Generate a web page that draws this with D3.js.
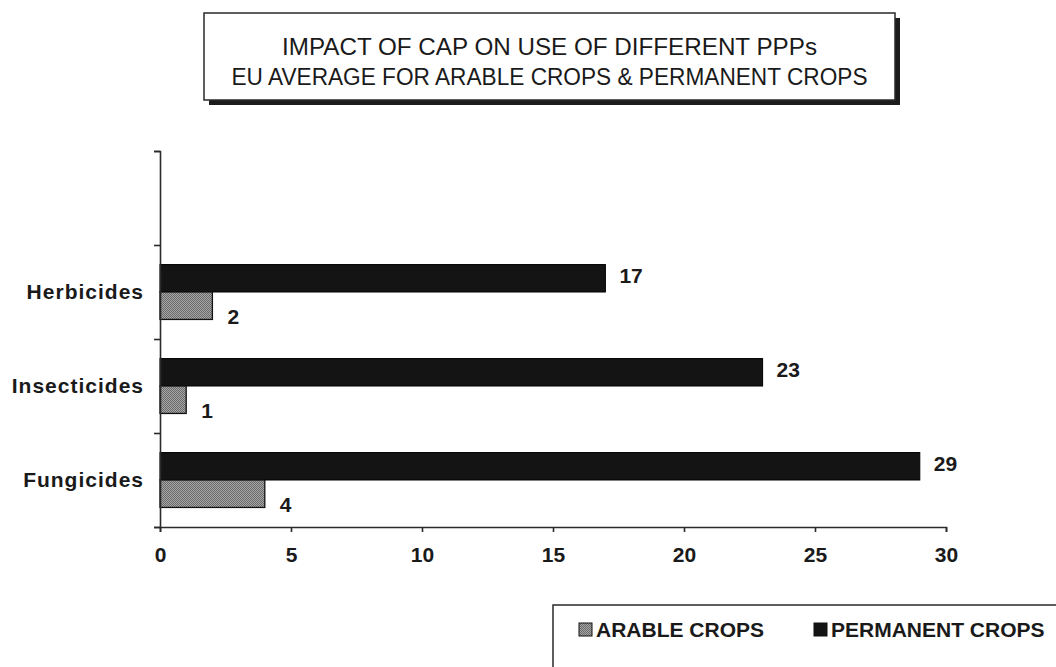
<!DOCTYPE html>
<html>
<head>
<meta charset="utf-8">
<script src="https://cdn.jsdelivr.net/npm/d3@7"></script>
<style>
  html, body { margin: 0; padding: 0; background: #fff; }
  svg { display: block; font-family: "Liberation Sans", Arial, sans-serif; }
</style>
</head>
<body>
<svg id="chart" width="1056" height="667"></svg>
<script>
// Chart data
const categories = ["Herbicides", "Insecticides", "Fungicides"];
const arableValues = [2, 1, 4];
const permanentValues = [17, 23, 29];
const seriesNames = ["ARABLE CROPS", "PERMANENT CROPS"];
const xTicks = [0, 5, 10, 15, 20, 25, 30];
const titleLines = [
  "IMPACT OF CAP ON USE OF DIFFERENT PPPs",
  "EU AVERAGE FOR ARABLE CROPS & PERMANENT CROPS"
];

const svg = d3.select("#chart");
const axisColor = "#2a2a2a";
const darkFill = "#141414";
const textColor = "#1a1a1a";
const boldSize = 21;

// Dotted grey fill for the arable series
const defs = svg.append("defs");
const pat = defs.append("pattern")
  .attr("id", "dots").attr("width", 2).attr("height", 2)
  .attr("patternUnits", "userSpaceOnUse");
pat.append("rect").attr("width", 2).attr("height", 2).attr("fill", "#a6a6a6");
pat.append("rect").attr("width", 1).attr("height", 1).attr("fill", "#6a6a6a");
pat.append("rect").attr("x", 1).attr("y", 1).attr("width", 1).attr("height", 1).attr("fill", "#6a6a6a");

// Scales: an empty row sits above the three categories
const x = d3.scaleLinear().domain([0, 30]).range([160, 946]);
const y = d3.scaleBand().domain(["", ...categories]).range([151, 527]);
const bw = y.bandwidth();
const barH = bw * 0.292;
const groupOff = (bw - 2 * barH) / 2;

// Title box with drop shadow
const tb = { x: 204, y: 13, w: 691, h: 87 };
svg.append("rect").attr("x", tb.x + 5).attr("y", tb.y + 5).attr("width", tb.w).attr("height", tb.h)
  .attr("fill", "#1c1c1c");
svg.append("rect").attr("x", tb.x).attr("y", tb.y).attr("width", tb.w).attr("height", tb.h)
  .attr("fill", "#fff").attr("stroke", axisColor).attr("stroke-width", 1.5);
const titleWidths = [535, 636];
svg.append("g").selectAll("text").data(titleLines).join("text")
  .attr("x", tb.x + tb.w / 2).attr("y", (d, i) => 55 + i * 30)
  .attr("text-anchor", "middle").attr("font-size", 23).attr("fill", textColor)
  .attr("textLength", (d, i) => titleWidths[i]).attr("lengthAdjust", "spacingAndGlyphs")
  .text(d => d);

// Bars
const rows = categories.map((c, i) => ({ c, a: arableValues[i], p: permanentValues[i] }));
const g = svg.append("g");
g.selectAll("rect.perm").data(rows).join("rect")
  .attr("class", "perm")
  .attr("x", x(0)).attr("y", d => y(d.c) + groupOff)
  .attr("width", d => x(d.p) - x(0)).attr("height", barH)
  .attr("fill", darkFill).attr("stroke", "#000").attr("stroke-width", 1);
g.selectAll("rect.arable").data(rows).join("rect")
  .attr("class", "arable")
  .attr("x", x(0)).attr("y", d => y(d.c) + groupOff + barH)
  .attr("width", d => x(d.a) - x(0)).attr("height", barH)
  .attr("fill", "url(#dots)").attr("stroke", "#111").attr("stroke-width", 1.3);

// Value labels
g.selectAll("text.pv").data(rows).join("text")
  .attr("x", d => x(d.p) + 14).attr("y", d => y(d.c) + groupOff + barH / 2 - 3)
  .attr("dy", "0.35em").attr("font-size", boldSize).attr("font-weight", "bold")
  .attr("fill", textColor).text(d => d.p);
g.selectAll("text.av").data(rows).join("text")
  .attr("x", d => x(d.a) + 15).attr("y", d => y(d.c) + groupOff + barH * 1.5 + 11)
  .attr("dy", "0.35em").attr("font-size", boldSize).attr("font-weight", "bold")
  .attr("fill", textColor).text(d => d.a);

// Y axis: boundary ticks between rows
const yEdges = d3.scaleLinear().domain([0, 4]).range([151, 527]);
const yAxis = svg.append("g").attr("transform", `translate(${x(0)},0)`)
  .call(d3.axisLeft(yEdges).ticks(4).tickSize(6).tickFormat(""));
yAxis.selectAll("path,line").attr("stroke", axisColor).attr("stroke-width", 1.6);

// Y category labels
const yLab = svg.append("g").attr("transform", `translate(${x(0)},0)`)
  .call(d3.axisLeft(y.copy().domain(categories).range([245, 527])).tickSize(0).tickPadding(16));
yLab.select(".domain").remove();
yLab.selectAll("text").attr("font-size", boldSize).attr("font-weight", "bold")
  .attr("letter-spacing", "1px").attr("fill", textColor)
  .attr("font-family", "'Liberation Sans', Arial, sans-serif");

// X axis
const xAxis = svg.append("g").attr("transform", "translate(0,527)")
  .call(d3.axisBottom(x).tickValues(xTicks).tickSize(5).tickPadding(15).tickSizeOuter(5));
xAxis.selectAll("path,line").attr("stroke", axisColor).attr("stroke-width", 1.6);
xAxis.selectAll("text").attr("font-size", boldSize).attr("font-weight", "bold")
  .attr("fill", textColor).attr("font-family", "'Liberation Sans', Arial, sans-serif");

// Legend
const lg = svg.append("g");
lg.append("rect").attr("x", 553).attr("y", 605).attr("width", 520).attr("height", 90)
  .attr("fill", "#fff").attr("stroke", axisColor).attr("stroke-width", 1.5);
const legendItems = [
  { name: seriesNames[0], fill: "url(#dots)", sx: 579 },
  { name: seriesNames[1], fill: darkFill, sx: 814 }
];
const li = lg.selectAll("g.item").data(legendItems).join("g").attr("class", "item");
li.append("rect").attr("x", d => d.sx).attr("y", 623).attr("width", 13).attr("height", 13)
  .attr("fill", d => d.fill).attr("stroke", "#111").attr("stroke-width", 1);
li.append("text").attr("x", d => d.sx + 17).attr("y", 637)
  .attr("font-size", boldSize).attr("font-weight", "bold").attr("fill", textColor)
  .text(d => d.name);
</script>
</body>
</html>
